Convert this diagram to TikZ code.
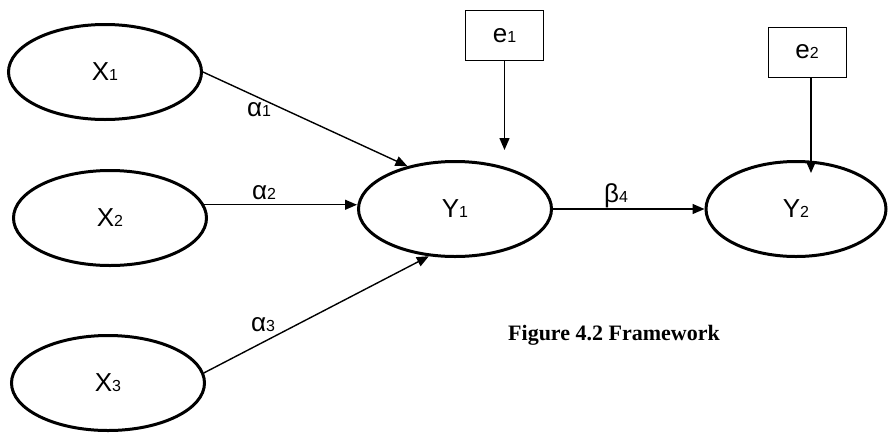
\documentclass[tikz,border=0pt]{standalone}
\usepackage{fontspec}
\setmainfont{Liberation Sans}
\newfontfamily\capfont{Liberation Serif}
\usetikzlibrary{shapes.geometric,arrows.meta}
\newcommand{\sbs}[1]{{\fontsize{16}{16}\selectfont #1}}
\tikzset{
  ell/.style={ellipse,draw,line width=3pt,minimum width=193pt,minimum height=95pt,inner sep=0pt,font=\fontsize{26}{26}\selectfont},
  ebox/.style={rectangle,draw,line width=1pt,minimum width=78pt,minimum height=50pt,inner sep=0pt,font=\fontsize{26}{26}\selectfont},
  arr/.style={line width=1.4pt,-{Triangle[length=12pt,width=10pt]}},
  lbl/.style={inner sep=0pt,font=\fontsize{26}{26}\selectfont}
}
\begin{document}
\begin{tikzpicture}[x=1pt,y=-1pt]
\useasboundingbox (0,0) rectangle (888,432);
\node[ell] (x1) at (105,72) {X\sbs{1}};
\node[ell] (x2) at (110,218) {X\sbs{2}};
\node[ell] (x3) at (108,383) {X\sbs{3}};
\node[ell] (y1) at (455,209) {Y\sbs{1}};
\node[ell,minimum width=180pt] (y2) at (796,209) {Y\sbs{2}};
\node[ebox] (e1) at (504.5,35.5) {e\sbs{1}};
\node[ebox] (e2) at (807,52) {e\sbs{2}};
\coordinate (e1end) at (504.5,150);
\coordinate (e2end) at (811,173);
\draw[arr] (x1.east) -- (y1.138);
\draw[arr] (x2.8.6) -- (x2.8.6 -| y1.west);
\draw[arr] (x3.6) -- (y1.241);
\draw[arr] (y1.east) -- (y2.west);
\draw[arr] (e1.south) -- (e1end);
\draw[arr] (e2.south -| e2end) -- (e2end);
\node[lbl] (a1) at (259,110) {α\sbs{1}};
\node[lbl] (a2) at (264,193) {α\sbs{2}};
\node[lbl] (a3) at (263,325) {α\sbs{3}};
\node[lbl] (b4) at (616,196) {β\sbs{4}};
\node[inner sep=0pt,font=\capfont\bfseries\fontsize{22}{22}\selectfont] (cap) at (614,335) {Figure 4.2 Framework};
\end{tikzpicture}
\end{document}
